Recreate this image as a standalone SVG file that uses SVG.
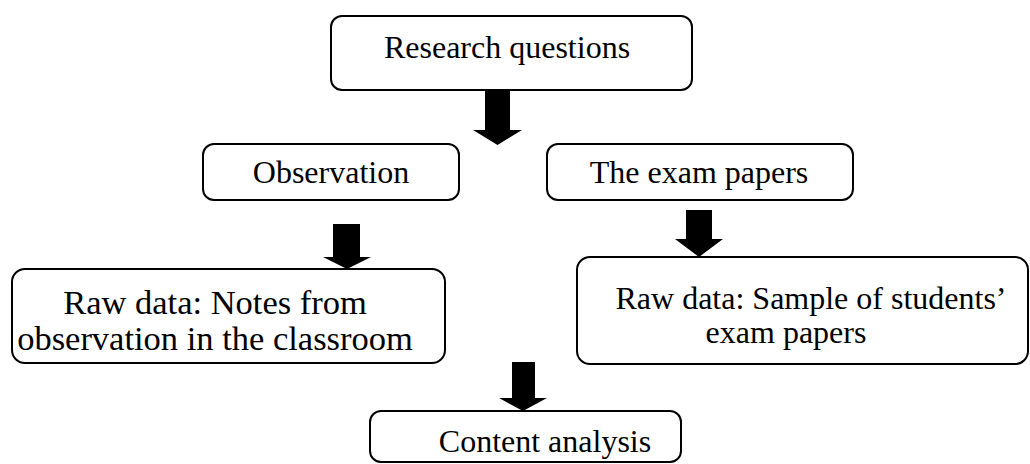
<svg xmlns="http://www.w3.org/2000/svg" width="1030" height="464" viewBox="0 0 1030 464">
<style>
.box{fill:#fff;stroke:#000;stroke-width:2}
text{font-family:'Liberation Serif',serif;font-size:32px;fill:#000;text-anchor:middle}
.big{font-size:34.5px}
.arr{fill:#000}
</style>
<rect width="1030" height="464" fill="#fff"/>
<g id="connectors">
<polygon class="arr" points="485,90 510,90 510,130 522,130 497.5,145 473,130 485,130"/>
<polygon class="arr" points="333,224 360,224 360,257 371,257 347,269 323,257 333,257"/>
<polygon class="arr" points="686,210 712,210 712,239 723,239 699,257 675,239 686,239"/>
<polygon class="arr" points="512,362 535,362 535,398 547,398 523,411 499,398 512,398"/>
</g>
<g id="n1"><rect class="box" x="331" y="16" width="361" height="74" rx="11"/><text x="507" y="58" font-family="Liberation Serif, serif">Research questions</text></g>
<g id="n2"><rect class="box" x="203" y="144" width="256" height="56" rx="11"/><text x="331" y="183" font-family="Liberation Serif, serif">Observation</text></g>
<g id="n3"><rect class="box" x="547" y="144" width="306" height="56" rx="11"/><text x="699" y="183" font-family="Liberation Serif, serif">The exam papers</text></g>
<g id="n4"><rect class="box" x="12" y="269" width="433" height="94" rx="13"/><text class="big" x="215" y="314" font-family="Liberation Serif, serif">Raw data: Notes from</text><text class="big" x="215" y="350" font-family="Liberation Serif, serif">observation in the classroom</text></g>
<g id="n5"><rect class="box" x="577" y="257" width="451" height="107" rx="13"/><text x="811" y="309" font-family="Liberation Serif, serif">Raw data: Sample of students’</text><text x="786" y="343" font-family="Liberation Serif, serif">exam papers</text></g>
<g id="n6"><rect class="box" x="370" y="411" width="311" height="51" rx="11"/><text x="545" y="452" font-family="Liberation Serif, serif">Content analysis</text></g>
</svg>
